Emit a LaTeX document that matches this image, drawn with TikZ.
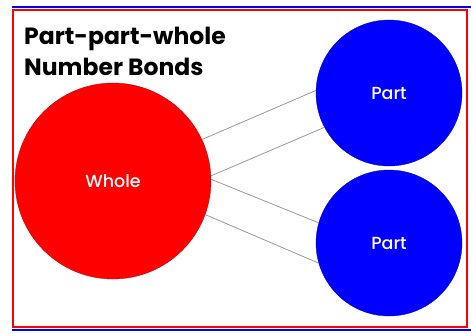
\documentclass[tikz,border=0pt]{standalone}
\usepackage{fontspec}
\setmainfont{Poppins}
\newfontfamily\labelfont{Poppins Medium}
\usepackage{tikz}

\begin{document}
\begin{tikzpicture}[x=1pt, y=-1pt,
    wholecircle/.style={circle, fill=red, draw=red!70!black, line width=0.3pt, minimum size=196pt, inner sep=0pt, text=white, font=\labelfont\fontsize{17.5}{20}\selectfont},
    partcircle/.style={circle, fill=blue, draw=blue!70!black, line width=0.3pt, minimum size=146pt, inner sep=0pt, text=white, font=\labelfont\fontsize{17.5}{20}\selectfont},
    link/.style={gray!80, line width=0.8pt}]
    \useasboundingbox (0, 0) rectangle (471, 333);

    % Frame
    \draw[blue, line width=2pt] (12, 6.5) -- (471, 6.5);
    \draw[blue, line width=2pt] (12, 330) -- (471, 330);
    \draw[red, line width=2pt] (13, 10) rectangle (467, 327);

    % Title
    \node[anchor=north west, align=left, inner sep=0pt, font=\fontsize{23.5}{31}\selectfont\bfseries] (title) at (24, 27) {Part-part-whole\\Number Bonds};

    % Circles
    \node[wholecircle] (whole) at (113, 181) {Whole};
    \node[partcircle] (parta) at (389, 93) {Part};
    \node[partcircle] (partb) at (389, 243) {Part};

    % Bonds
    \draw[link] (whole.25) -- (parta.178);
    \draw[link] (whole.3) -- (parta.208);
    \draw[link] (whole.1) -- (partb.164);
    \draw[link] (whole.-20) -- (partb.196);
\end{tikzpicture}
\end{document}
